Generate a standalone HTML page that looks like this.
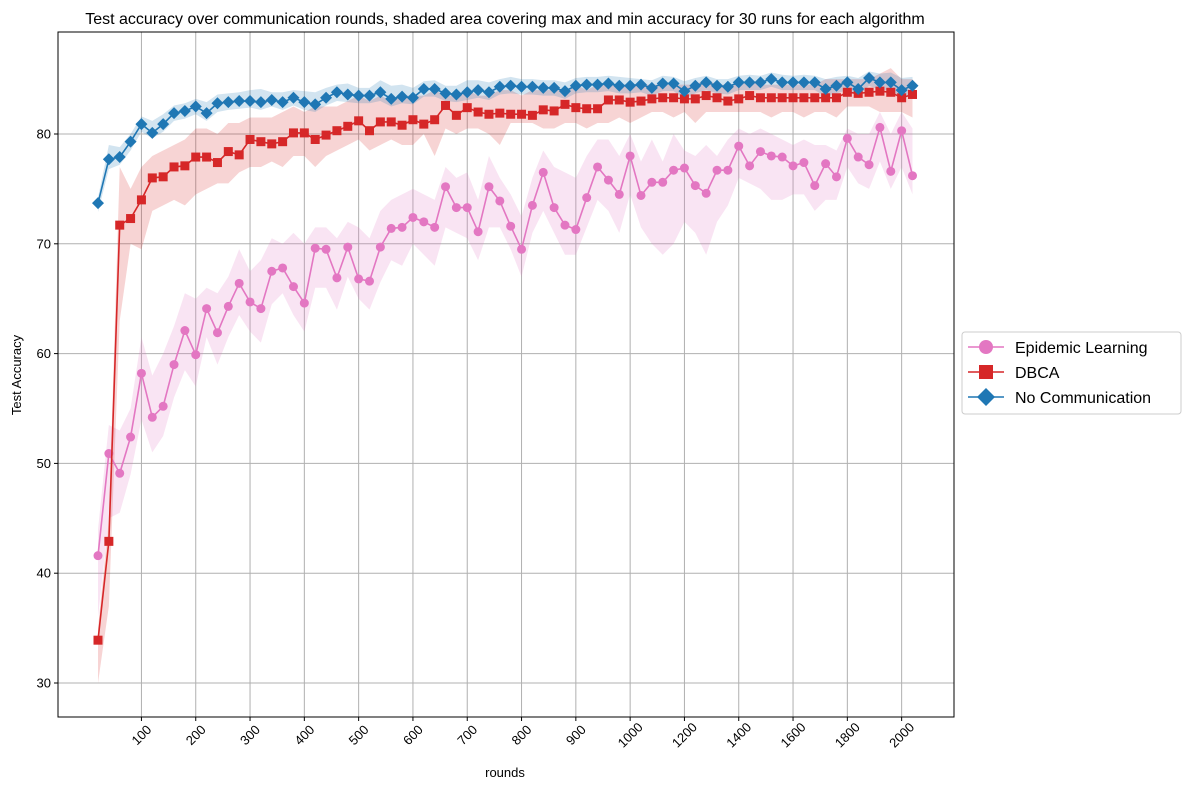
<!DOCTYPE html>
<html><head><meta charset="utf-8"><style>
body{margin:0;background:#fff;font-family:"Liberation Sans","DejaVu Sans",sans-serif;}
svg{display:block}
</style></head><body>
<svg id="chart" width="1190" height="790" xmlns="http://www.w3.org/2000/svg"></svg>
<script>
const tickLabels=["100","200","300","400","500","600","700","800","900","1000","1200","1400","1600","1800","2000"];
const tickIdx=[4,9,14,19,24,29,34,39,44,49,54,59,64,69,74];
const yTicks=[30,40,50,60,70,80];
const epi=[41.6,50.9,49.1,52.4,58.2,54.2,55.2,59.0,62.1,59.9,64.1,61.9,64.3,66.4,64.7,64.1,67.5,67.8,66.1,64.6,69.6,69.5,66.9,69.7,66.8,66.6,69.7,71.4,71.5,72.4,72.0,71.5,75.2,73.3,73.3,71.1,75.2,73.9,71.6,69.5,73.5,76.5,73.3,71.7,71.3,74.2,77.0,75.8,74.5,78.0,74.4,75.6,75.6,76.7,76.9,75.3,74.6,76.7,76.7,78.9,77.1,78.4,78.0,77.9,77.1,77.4,75.3,77.3,76.1,79.6,77.9,77.2,80.6,76.6,80.3,76.2];
const epiHi=[44,53.5,53,55,61.5,58,60,62.5,65.5,65,66,65.5,67,69.5,67.5,68.5,70.5,70,71,70,71.5,71.5,70.5,72,71.5,70.5,73,74,74.5,75,74.5,74,77,76,76.5,74,78,76,74.5,72.5,76,78.5,77,76.5,76,78,79.5,79.5,78,80,77.5,79.5,77.5,80,78.5,78,79,78,79.5,80.5,80,80.5,80,79.5,79,79.5,79,79,78.5,80.5,80,80,82,80,82,80.5];
const epiLo=[36,45,45.5,49,54,51,52.5,56,58.5,57,61.5,59,61.5,63.5,62,61,64.5,65.5,63.5,62,66,66,64,67,65,64,66.5,68.5,68,70,69,68,71.5,71,70.5,68.5,71.5,71.5,69.5,67,71,73,71,69,69,71.5,74,73,71,74.5,71.5,70,69,70,72,71,69,72,73.5,76,75.5,75,74,74,74.5,74.5,73,74,74,77,75.5,75,77.5,75,77,74.5];
const dbca=[33.9,42.9,71.7,72.3,74.0,76.0,76.1,77.0,77.1,77.9,77.9,77.4,78.4,78.1,79.5,79.3,79.1,79.3,80.1,80.1,79.5,79.9,80.3,80.7,81.2,80.3,81.1,81.1,80.8,81.3,80.9,81.3,82.6,81.7,82.4,82.0,81.8,81.9,81.8,81.8,81.7,82.2,82.1,82.7,82.4,82.3,82.3,83.1,83.1,82.9,83.0,83.2,83.3,83.3,83.2,83.2,83.5,83.3,83.0,83.2,83.5,83.3,83.3,83.3,83.3,83.3,83.3,83.3,83.3,83.8,83.7,83.8,83.9,83.8,83.3,83.6];
const dbcaHi=[35,45,77,75,77,78,78.5,79,79.5,80.5,80.5,80,81,81,81.5,81.5,81.5,82,82.5,82,82.5,82.5,82.5,83,83.5,83,83.5,83,83.5,83.5,83.5,84,83.5,83.5,84,83.5,83.5,84,84,83.5,84,84,84,84,84.5,84,84.5,84.5,84.5,84.5,84.5,84.5,84.5,84.5,84.5,84.5,85,84.5,84.5,84.5,85,84.5,84.5,84.5,84.5,84.5,84.5,85,85,85,85,85,85.5,86,85,85];
const dbcaLo=[30,37,63,70,69.5,73,73.5,74,73.5,74.5,75,75.5,75.5,76.5,77,77,77.5,77,78,78,77,78,78.5,79,79.5,78.5,79,79.5,79,79,80,78,80.5,80,80.5,80.5,80,79,81,81,81,80.5,80.5,81,81,80.5,81,81,81.5,81,81.5,82,82,81.5,82,81,82,82,82,82,82,82,81.5,82,82,81.5,82,82,81.5,82.5,82.5,82.5,82,82,82,81.5];
const noc=[73.7,77.7,77.9,79.3,80.9,80.1,80.9,81.9,82.1,82.5,81.9,82.8,82.9,83.0,83.0,82.9,83.1,82.9,83.3,82.9,82.7,83.3,83.8,83.6,83.5,83.5,83.8,83.2,83.4,83.3,84.1,84.1,83.7,83.6,83.8,84.0,83.8,84.3,84.4,84.3,84.3,84.2,84.2,83.9,84.4,84.5,84.5,84.6,84.4,84.4,84.5,84.2,84.6,84.6,83.9,84.4,84.7,84.4,84.3,84.7,84.7,84.7,85.0,84.7,84.7,84.7,84.7,84.1,84.4,84.7,84.1,85.1,84.7,84.7,84.0,84.4];
const nocHi=[74.2,79,78.8,80,81.6,81.2,81.8,82.6,82.8,83.2,82.9,83.6,83.7,83.8,84.0,84.1,83.8,83.8,84.0,83.9,83.8,84.2,84.5,84.6,84.2,84.2,84.9,84.4,84.5,84.2,84.8,84.9,84.4,84.4,84.9,84.9,84.7,85.0,85.2,85.0,85.0,84.9,84.9,84.7,85.1,85.2,85.2,85.3,85.2,85.1,85.0,84.9,85.3,85.2,84.8,85.1,85.3,85.0,85.0,85.3,85.4,85.3,85.6,85.4,85.3,85.4,85.3,85.0,85.2,85.3,85.1,85.7,85.5,85.6,85.1,85.2];
const nocLo=[72.9,76.8,77.2,78.5,80.2,79.6,80.2,81.2,81.4,81.8,81.2,82.0,82.2,82.3,82.4,82.2,82.5,82.2,82.6,82.2,82.0,82.6,83.0,82.9,82.8,82.8,83.0,82.5,82.8,82.7,83.4,83.4,83.0,82.9,83.1,83.3,83.1,83.6,83.7,83.6,83.6,83.5,83.5,83.2,83.7,83.8,83.8,83.9,83.7,83.7,83.8,83.5,83.9,83.9,83.2,83.7,84.0,83.7,83.6,84.0,84.0,84.0,84.3,84.0,84.0,84.0,84.0,83.4,83.7,84.0,83.4,84.4,84.0,84.0,83.3,83.7];

const NS="http://www.w3.org/2000/svg";
const svg=document.getElementById('chart');
const L=58,R=954,T=32,B=717;
function xs(i){return 98+i*10.86;}
function ys(v){return 683-(v-30)*10.98;}
function mk(tag,attrs,parent){const e=document.createElementNS(NS,tag);for(const k in attrs)e.setAttribute(k,attrs[k]);(parent||svg).appendChild(e);return e;}

const plot=mk('g',{});


mk('rect',{x:L,y:T,width:R-L,height:B-T,fill:'#fff'},plot);

tickIdx.forEach((ti,k)=>{
  const x=xs(ti);
  const g=mk('line',{x1:x,x2:x,y1:T,y2:B,stroke:'#b0b0b0','stroke-width':1},plot);
  
  
  mk('line',{x1:x,x2:x,y1:B,y2:B+4,stroke:'#000'},svg);
  const t=mk('text',{x:0,y:0,'font-size':13,'text-anchor':'middle','dominant-baseline':'central',transform:`translate(${x},${B+18}) rotate(-45)`},svg);
  t.textContent=tickLabels[k];
  
  
});
yTicks.forEach(v=>{
  const y=ys(v);
  const g=mk('line',{x1:L,x2:R,y1:y,y2:y,stroke:'#b0b0b0','stroke-width':1},plot);
  
  
  mk('line',{x1:L-4,x2:L,y1:y,y2:y,stroke:'#000'},svg);
  const t=mk('text',{x:L-7,y:y+4.5,'font-size':13,'text-anchor':'end'},svg);
  t.textContent=v;
  
  
});

function band(hi,lo,color,name){
  let d='M'+hi.map((v,i)=>xs(i)+','+ys(v)).join('L');
  for(let i=lo.length-1;i>=0;i--)d+='L'+xs(i)+','+ys(lo[i]);
  const p=mk('path',{d:d+'Z',fill:color,'fill-opacity':0.2,stroke:'none'},plot);
  
  
}
band(epiHi,epiLo,'#e377c2','epidemic-band');
band(dbcaHi,dbcaLo,'#d62728','dbca-band');
band(nocHi,nocLo,'#1f77b4','no-communication-band');

function marker(g,x,y,shape,color){
  if(shape==='o')return mk('circle',{cx:x,cy:y,r:4.5,fill:color},g);
  if(shape==='s')return mk('rect',{x:x-4.5,y:y-4.5,width:9,height:9,fill:color},g);
  return mk('polygon',{points:`${x},${y-6} ${x+6},${y} ${x},${y+6} ${x-6},${y}`,fill:color},g);
}
function series(vals,color,shape,name){
  const g=mk('g',{},plot);
  
  
  mk('polyline',{points:vals.map((v,i)=>xs(i)+','+ys(v)).join(' '),fill:'none',stroke:color,'stroke-width':1.6},g);
  vals.forEach((v,i)=>{
    const m=marker(g,xs(i),ys(v),shape,color);
    
    
  });
}
series(epi,'#e377c2','o','epidemic-learning-series');
series(dbca,'#d62728','s','dbca-series');
series(noc,'#1f77b4','d','no-communication-series');

mk('rect',{x:L,y:T,width:R-L,height:B-T,fill:'none',stroke:'#000','stroke-width':1},svg);

const title=mk('text',{x:505,y:24,'font-size':16,'text-anchor':'middle'},svg);
title.textContent='Test accuracy over communication rounds, shaded area covering max and min accuracy for 30 runs for each algorithm';


const xl=mk('text',{x:505,y:777,'font-size':13,'text-anchor':'middle'},svg);
xl.textContent='rounds';


const yl=mk('text',{x:0,y:0,'font-size':13,'text-anchor':'middle',transform:'translate(21,375) rotate(-90)'},svg);
yl.textContent='Test Accuracy';



const lg=mk('g',{});


mk('rect',{x:962,y:332,width:219,height:82,rx:3,fill:'#fff',stroke:'#ccc'},lg);
const entries=[['Epidemic Learning','#e377c2','o'],['DBCA','#d62728','s'],['No Communication','#1f77b4','d']];
entries.forEach((e,k)=>{
  const y=347+k*25;
  const g=mk('g',{},lg);
  
  
  mk('line',{x1:968,x2:1004,y1:y,y2:y,stroke:e[1],'stroke-width':1.6},g);
  if(e[2]==='o')mk('circle',{cx:986,cy:y,r:7,fill:e[1]},g);
  else if(e[2]==='s')mk('rect',{x:979,y:y-7,width:14,height:14,fill:e[1]},g);
  else mk('polygon',{points:`986,${y-9} 995,${y} 986,${y+9} 977,${y}`,fill:e[1]},g);
  const t=mk('text',{x:1015,y:y+6,'font-size':16},g);
  t.textContent=e[0];
});
</script>
</body></html>
